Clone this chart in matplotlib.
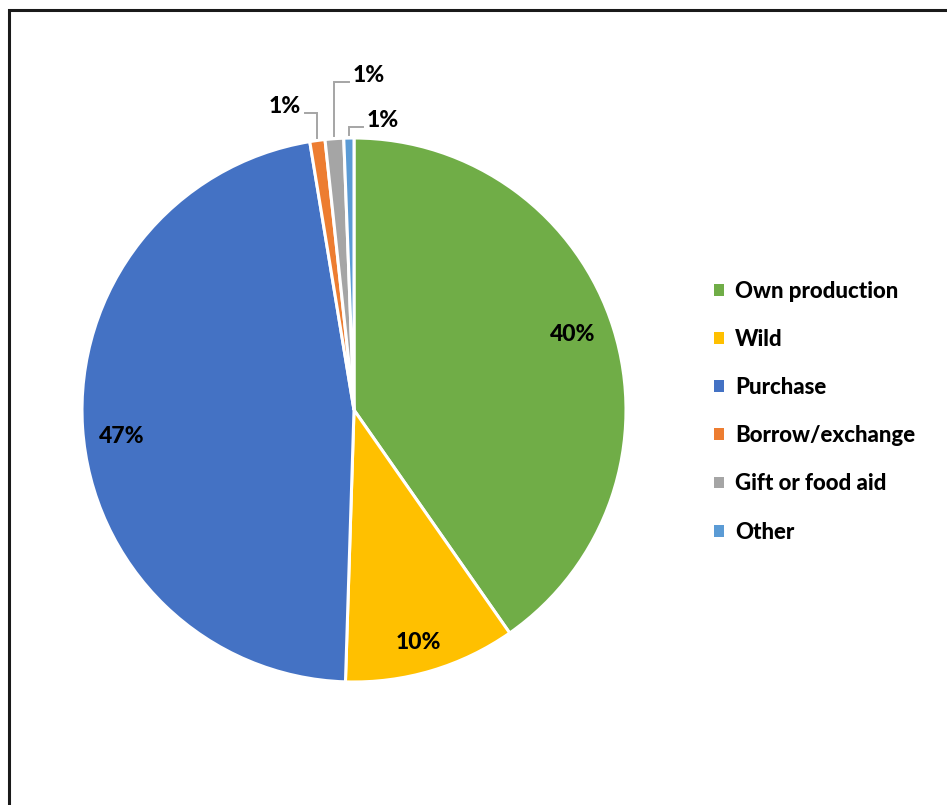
import matplotlib
matplotlib.use("Agg")
import numpy as np
import matplotlib.pyplot as plt
from matplotlib.patches import Rectangle

# Share of food by source
sources = ["Own production", "Wild", "Purchase", "Borrow/exchange",
           "Gift or food aid", "Other"]
shares = [40.3, 10.2, 46.9, 0.9, 1.1, 0.6]
colors = ["#70AD47", "#FFC000", "#4472C4", "#ED7D31", "#A5A5A5", "#5B9BD5"]

plt.rcParams['font.family'] = ['Lato', 'DejaVu Sans']

fig = plt.figure(figsize=(9.47, 8.05), dpi=100)

# outer frame (runs off the right and bottom edges)
fig.patches.append(Rectangle((9 / 947, -0.1), 1.2, (795 - 0) / 805 + 0.1,
                             transform=fig.transFigure, fill=False,
                             edgecolor="#1a1a1a", linewidth=2.2))

ax = fig.add_axes([82 / 947, 123 / 805, 544 / 947, 544 / 805])
wedges, _ = ax.pie(shares, colors=colors, startangle=90, counterclock=False,
                   radius=1.0,
                   wedgeprops=dict(edgecolor="white", linewidth=2.2))
ax.set_xlim(-1, 1)
ax.set_ylim(-1, 1)
ax.set_aspect("equal")
ax.axis("off")

total = sum(shares)
pct_labels = ["%d%%" % round(v / total * 100) for v in shares]
# round tiny slices up to show 1%
pct_labels = [l if l != "0%" else "1%" for l in pct_labels]

# big slices: labels inside (small angle nudge, radius)
inside = [(1.7, 0.85), (-1.1, 0.885), (2.7, 0.86)]
for i, (nudge, r) in enumerate(inside):
    w = wedges[i]
    mid = np.deg2rad((w.theta1 + w.theta2) / 2 + nudge)
    ax.text(r * np.cos(mid), r * np.sin(mid), pct_labels[i],
            ha="center", va="center", fontsize=16.5, fontweight=900)

# small slices: labels outside with elbow leader lines
# (label height, horizontal end of leader, text x, alignment)
callouts = [(1.092, -0.180, -0.195, "right"),
            (1.206, -0.018, -0.005, "left"),
            (1.040, 0.032, 0.048, "left")]
for i, (yh, xend, xt, ha) in zip(range(3, 6), callouts):
    w = wedges[i]
    mid = np.deg2rad((w.theta1 + w.theta2) / 2)
    x0, y0 = np.cos(mid), np.sin(mid)
    ax.plot([x0, x0, xend], [y0 + 0.01, yh, yh], color="#A5A5A5",
            linewidth=1.4, clip_on=False, solid_joinstyle="miter")
    ax.text(xt, yh + 0.025, pct_labels[i], ha=ha, va="center",
            fontsize=16.5, fontweight=900)

leg = fig.legend(wedges, sources, loc="upper left",
                 bbox_to_anchor=(714 / 947, 1 - 281 / 805),
                 frameon=False, borderpad=0, borderaxespad=0,
                 handlelength=0.45, handleheight=0.45,
                 handletextpad=0.5, labelspacing=1.22,
                 prop=dict(size=16, weight=900))
for h in leg.legend_handles:
    h.set_edgecolor("none")

fig.savefig("out.png", dpi=100)
